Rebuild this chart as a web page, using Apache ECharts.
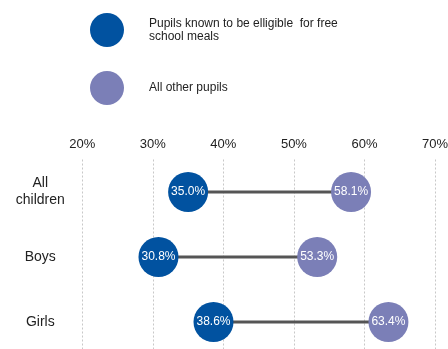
<!DOCTYPE html>
<html>
<head>
<meta charset="utf-8">
<script src="https://cdn.jsdelivr.net/npm/echarts@6/dist/echarts.min.js"></script>
<style>
html,body{margin:0;padding:0;background:#fff;}
#chart{width:448px;height:349px;}
</style>
</head>
<body>
<div id="chart"></div>
<script>
const categories = ['All\nchildren', 'Boys', 'Girls'];
const fsmValues = [35.0, 30.8, 38.6];
const otherValues = [58.1, 53.3, 63.4];
const seriesNames = ['Pupils known to be elligible  for free\nschool meals', 'All other pupils'];
const xMin = 20, xMax = 70, xInterval = 10;

const chart = echarts.init(document.getElementById('chart'));
const fontFamily = '"Liberation Sans", Arial, sans-serif';

const labelCfg = {
  show: true,
  position: 'inside',
  color: '#fff',
  fontSize: 12,
  fontFamily: fontFamily,
  formatter: p => p.value[0].toFixed(1) + '%'
};

chart.setOption({
  animation: false,
  textStyle: { fontFamily: fontFamily },
  legend: {
    data: seriesNames,
    orient: 'vertical',
    left: 85,
    top: 8,
    itemWidth: 34,
    itemHeight: 34,
    itemGap: 24,
    icon: 'circle',
    textStyle: { fontSize: 12, color: '#222', lineHeight: 13, padding: [0, 0, 5, 20] },
    selectedMode: false
  },
  grid: {
    left: 82.3,
    right: 13,
    top: 159.5,
    height: 195,
    containLabel: false,
    outerBoundsMode: 'none'
  },
  xAxis: {
    type: 'value',
    position: 'top',
    min: xMin,
    max: xMax,
    interval: xInterval,
    axisLine: { show: false },
    axisTick: { show: false },
    axisLabel: { formatter: '{value}%', fontSize: 13, color: '#222', margin: 9 },
    splitLine: { show: true, lineStyle: { color: '#c8c8c8', type: [2, 2], width: 1 } }
  },
  yAxis: {
    type: 'category',
    inverse: true,
    data: categories,
    axisLine: { show: false },
    axisTick: { show: false },
    axisLabel: { fontSize: 14, color: '#222', align: 'center', margin: 42, lineHeight: 17 },
    splitLine: { show: false }
  },
  series: [
    {
      type: 'bar',
      stack: 'gap',
      data: fsmValues,
      barWidth: 3,
      itemStyle: { color: 'transparent' },
      silent: true,
      z: 1
    },
    {
      type: 'bar',
      stack: 'gap',
      data: otherValues.map((v, i) => +(v - fsmValues[i]).toFixed(1)),
      barWidth: 3,
      itemStyle: { color: '#555555' },
      silent: true,
      z: 1
    },
    {
      name: seriesNames[0],
      type: 'scatter',
      symbol: 'circle',
      symbolSize: 40,
      data: fsmValues.map((v, i) => [v, i]),
      itemStyle: { color: '#0152a0', opacity: 1 },
      label: labelCfg,
      z: 3
    },
    {
      name: seriesNames[1],
      type: 'scatter',
      symbol: 'circle',
      symbolSize: 40,
      data: otherValues.map((v, i) => [v, i]),
      itemStyle: { color: '#7b7fb7', opacity: 1 },
      label: labelCfg,
      z: 3
    }
  ]
});
</script>
</body>
</html>
